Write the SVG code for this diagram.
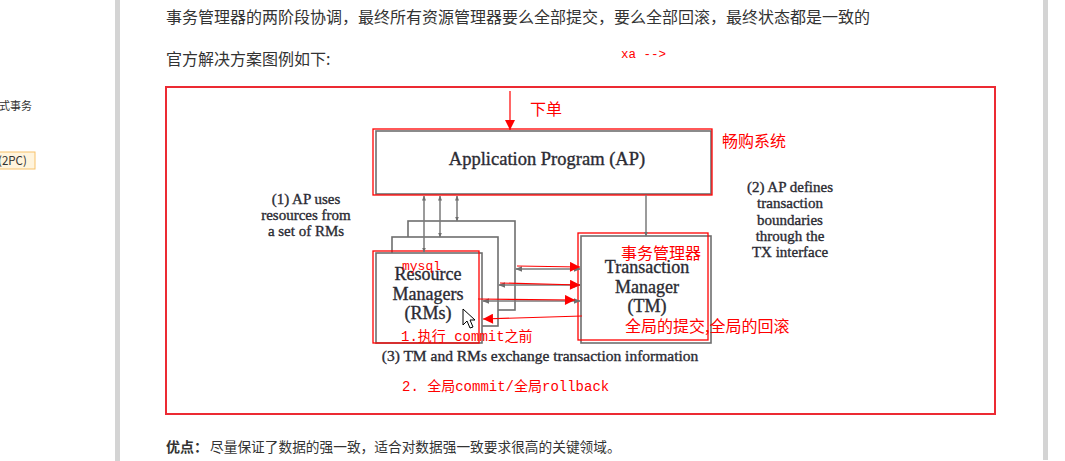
<svg xmlns="http://www.w3.org/2000/svg" width="1065" height="461" viewBox="0 0 1065 461">
<style>
.page{font-family:"Noto Sans CJK SC","Noto Sans",sans-serif;fill:#333}
.serif{font-family:"Liberation Serif","DejaVu Serif",serif;fill:#2b2b33;stroke:#2b2b33;stroke-width:0.35}
.red{font-family:"Noto Sans CJK SC",sans-serif;fill:#ff0000}
.mono{font-family:"Liberation Mono","Noto Sans CJK SC",monospace;fill:#ff0000}
.box{fill:#fff;stroke:#6e6e6e;stroke-width:1.6}
.gl{stroke:#7a7a7a;stroke-width:1.5;fill:none}
.rl{stroke:#ff0000;stroke-width:1.2;fill:none}
.rbox{fill:none;stroke:#ff0000;stroke-width:1.3}
</style>
<defs>
<marker id="ga" viewBox="0 0 10 10" refX="9" refY="5" markerWidth="5" markerHeight="5" orient="auto-start-reverse" markerUnits="userSpaceOnUse">
<path d="M0,1 L10,5 L0,9 z" fill="#6e6e6e"/>
</marker>
<marker id="ga2" viewBox="0 0 10 10" refX="9" refY="5" markerWidth="7" markerHeight="7" orient="auto-start-reverse" markerUnits="userSpaceOnUse">
<path d="M0,1 L10,5 L0,9 z" fill="#6e6e6e"/>
</marker>
<marker id="ra" viewBox="0 0 10 10" refX="10" refY="5" markerWidth="12" markerHeight="10" orient="auto" markerUnits="userSpaceOnUse">
<path d="M0,0 L10,5 L0,10 z" fill="#ff0000"/>
</marker>
</defs>
<rect width="1065" height="461" fill="#fff"/>
<!-- page chrome -->
<rect x="115" y="0" width="5" height="461" fill="#d4d4d4"/>
<rect x="1043" y="0" width="5" height="460" fill="#d4d4d4"/>
<text x="-1" y="110" class="page" font-size="11">式事务</text>
<rect x="-4" y="152" width="39" height="17" fill="#fff4dd" stroke="#f7c26a" stroke-width="1"/>
<text x="-2" y="165" class="page" font-size="11.5">(2PC)</text>
<text x="166" y="23" class="page" font-size="16">事务管理器的两阶段协调，最终所有资源管理器要么全部提交，要么全部回滚，最终状态都是一致的</text>
<text x="166" y="65" class="page" font-size="16">官方解决方案图例如下:</text>
<text x="621" y="58" class="mono" font-size="12.5">xa --&gt;</text>
<rect x="166" y="87" width="829" height="327" fill="none" stroke="#ec2a33" stroke-width="2"/>
<text x="166" y="452" class="page" font-size="14" font-weight="bold">优点：</text>
<text x="210" y="452" class="page" font-size="13.7">尽量保证了数据的强一致，适合对数据强一致要求很高的关键领域。</text>

<!-- nodes -->
<g id="ap">
<rect x="376" y="131" width="335" height="63" class="box"/>
<text x="547" y="165" class="serif" font-size="18.5" text-anchor="middle">Application Program (AP)</text>
<rect x="373" y="129" width="339" height="66" class="rbox"/>
</g>
<g id="rm">
<rect x="408" y="221" width="107" height="89" class="box"/>
<rect x="392" y="237" width="106" height="89" class="box"/>
<rect x="376" y="253" width="106" height="90" class="box"/>
<text class="serif" font-size="18" text-anchor="middle"><tspan x="428" y="280">Resource</tspan><tspan x="428" y="300">Managers</tspan><tspan x="428" y="319">(RMs)</tspan></text>
<rect x="373" y="251" width="106" height="92" class="rbox"/>
</g>
<g id="tm">
<rect x="581" y="236" width="130" height="107" class="box"/>
<text class="serif" font-size="18" text-anchor="middle"><tspan x="647" y="273">Transaction</tspan><tspan x="647" y="293">Manager</tspan><tspan x="647" y="312">(TM)</tspan></text>
<rect x="578" y="233" width="130" height="107" class="rbox"/>
</g>
<g id="notes">
<text class="serif" font-size="15" text-anchor="middle"><tspan x="306" y="204">(1) AP uses</tspan><tspan x="306" y="220">resources from</tspan><tspan x="306" y="236">a set of RMs</tspan></text>
<text class="serif" font-size="15" text-anchor="middle"><tspan x="790" y="192">(2) AP defines</tspan><tspan x="790" y="208">transaction</tspan><tspan x="790" y="225">boundaries</tspan><tspan x="790" y="241">through the</tspan><tspan x="790" y="257">TX interface</tspan></text>
<text x="540" y="361" class="serif" font-size="15.5" text-anchor="middle">(3) TM and RMs exchange transaction information</text>
</g>

<!-- connectors -->
<g id="connectors">
<line x1="424" y1="196" x2="424" y2="252" class="gl" marker-start="url(#ga)" marker-end="url(#ga)"/>
<line x1="440" y1="196" x2="440" y2="237" class="gl" marker-start="url(#ga)" marker-end="url(#ga)"/>
<line x1="457" y1="196" x2="457" y2="221" class="gl" marker-start="url(#ga)" marker-end="url(#ga)"/>
<line x1="646" y1="195" x2="646" y2="236" class="gl" marker-end="url(#ga)"/>
<line x1="516" y1="269" x2="580" y2="269" class="gl" marker-start="url(#ga2)" marker-end="url(#ga2)"/>
<line x1="499" y1="285" x2="580" y2="285" class="gl" marker-start="url(#ga2)" marker-end="url(#ga2)"/>
<line x1="483" y1="301" x2="580" y2="301" class="gl" marker-start="url(#ga2)" marker-end="url(#ga2)"/>
<!-- red annotation arrows -->
<line x1="510" y1="91" x2="510" y2="130" class="rl" marker-end="url(#ra)"/>
<line x1="517" y1="266" x2="580" y2="267" class="rl" marker-end="url(#ra)"/>
<line x1="500" y1="283" x2="580" y2="285" class="rl" marker-end="url(#ra)"/>
<line x1="478" y1="299" x2="575" y2="300" class="rl" marker-end="url(#ra)"/>
<line x1="582" y1="316" x2="483" y2="319" class="rl" marker-end="url(#ra)"/>
</g>

<!-- red annotations -->
<g id="annotations">
<text x="530" y="115" class="red" font-size="16">下单</text>
<text x="722" y="147" class="red" font-size="16">畅购系统</text>
<text x="621" y="259" class="red" font-size="16">事务管理器</text>
<text x="625" y="332" class="red" font-size="16">全局的提交,全局的回滚</text>
<text x="402" y="270" class="mono" font-size="13">mysql</text>
<text x="401" y="341" class="mono" font-size="14">1.执行 commit之前</text>
<text x="402" y="391" class="mono" font-size="14">2. 全局commit/全局rollback</text>
</g>

<!-- mouse cursor -->
<polygon points="463,309 463,325 467,321 470,328 473,327 470,320 475,320" fill="#fff" stroke="#000" stroke-width="1"/>
</svg>
